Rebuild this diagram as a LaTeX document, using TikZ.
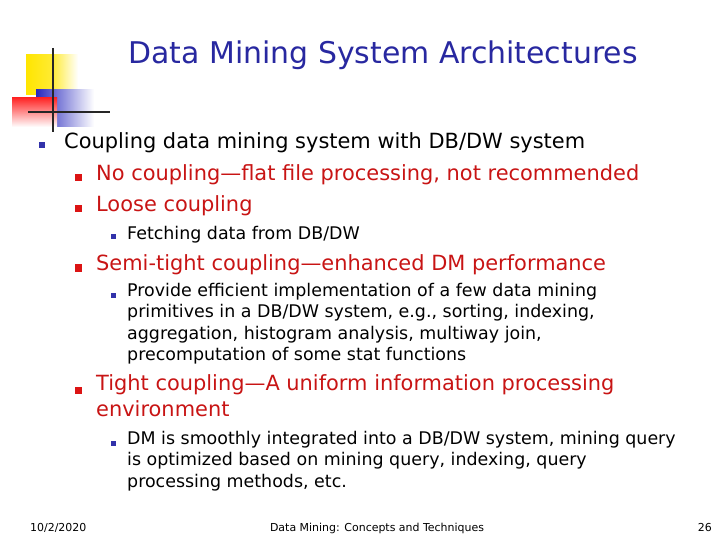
\documentclass[tikz,border=0pt]{standalone}
\usepackage{fontspec}
\setmainfont{DejaVu Sans}
\begin{document}
\begin{tikzpicture}[x=1bp,y=-1bp,
  every node/.style={inner sep=0pt,anchor=west,align=left},
  bul/.style={minimum size=7bp,inner sep=0pt,anchor=center},
  bblue/.style={bul,fill=bcol},
  bred/.style={bul,fill=rcol},
  lone/.style={font=\fontsize{21}{24}\selectfont,text=black},
  ltwo/.style={font=\fontsize{21}{26}\selectfont,text=tcol},
  lthree/.style={font=\fontsize{17.5}{21.5}\selectfont,text=black}]
\definecolor{ttl}{RGB}{40,40,160}
\definecolor{bcol}{RGB}{50,50,170}
\definecolor{rcol}{RGB}{220,20,20}
\definecolor{tcol}{RGB}{200,20,20}
\definecolor{blk}{RGB}{40,40,190}
\useasboundingbox (0,0) rectangle (720,540);
\shade[left color=yellow!80!orange,right color=white,middle color=yellow!80!orange!80] (26,55) rectangle (78,95);
\shade[left color=blk,middle color=blk!80,right color=white] (36,90) rectangle (94,127);
\shade[shading angle=225,top color=red!85,bottom color=white] (12,98) rectangle (57,127);
\draw[line width=2.5bp,black!85] (53,48) -- (53,132);
\draw[line width=2.5bp,black!85] (28,112) -- (110,112);
\node[anchor=center,font=\fontsize{30}{32}\selectfont,text=ttl] (title) at (383,55) {Data Mining System Architectures};
\node[bblue,minimum size=6bp] (b1) at (42,145) {};
\node[lone] (t1) at (64,143) {Coupling data mining system with DB/DW system};
\node[bred] (b2) at (78,178) {};
\node[ltwo] (t2) at (96,175) {No coupling---flat file processing, not recommended};
\node[bred] (b3) at (78,209) {};
\node[ltwo] (t3) at (96,206) {Loose coupling};
\node[bblue,minimum size=5bp] (b4) at (113,237) {};
\node[lthree] (t4) at (127,235) {Fetching data from DB/DW};
\node[bred] (b5) at (78,268) {};
\node[ltwo] (t5) at (96,265) {Semi-tight coupling---enhanced DM performance};
\node[bblue,minimum size=5bp] (b6) at (113,295) {};
\node[lthree,anchor=north west] (t6) at (127,283) {Provide efficient implementation of a few data mining\\primitives in a DB/DW system, e.g., sorting, indexing,\\aggregation, histogram analysis, multiway join,\\precomputation of some stat functions};
\node[bred] (b7) at (78,390) {};
\node[ltwo,anchor=north west] (t7) at (96,374) {Tight coupling---A uniform information processing\\environment};
\node[bblue,minimum size=5bp] (b8) at (113,443) {};
\node[lthree,anchor=north west] (t8) at (127,431) {DM is smoothly integrated into a DB/DW system, mining query\\is optimized based on mining query, indexing, query\\processing methods, etc.};
\node[font=\fontsize{11}{12}\selectfont] (d) at (30,528) {10/2/2020};
\node[anchor=center,font=\fontsize{11}{12}\selectfont] (f) at (377,528) {Data Mining: Concepts and Techniques};
\node[anchor=east,font=\fontsize{11}{12}\selectfont] (p) at (712,528) {26};
\end{tikzpicture}
\end{document}
